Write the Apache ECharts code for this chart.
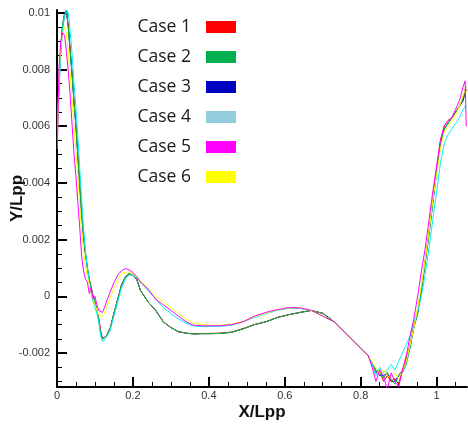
<!DOCTYPE html>
<html>
<head>
<meta charset="utf-8">
<script src="https://cdn.jsdelivr.net/npm/echarts@6/dist/echarts.min.js"></script>
<style>html,body{margin:0;padding:0;background:#fff;}#chart{width:468px;height:425px;}</style>
</head>
<body>
<div id="chart"></div>
<script>
const xValues = [0.001,0.005,0.01,0.015,0.02,0.025,0.03,0.035,0.04,0.045,
  0.05,0.055,0.06,0.065,0.07,0.075,0.08,0.085,0.09,0.095,
  0.1,0.105,0.11,0.115,0.12,0.125,0.13,0.14,0.15,0.16,
  0.17,0.18,0.19,0.2,0.21,0.22,0.24,0.26,0.28,0.3,
  0.32,0.34,0.36,0.38,0.4,0.43,0.46,0.49,0.52,0.55,
  0.58,0.61,0.64,0.67,0.7,0.73,0.76,0.79,0.82,0.83,
  0.84,0.85,0.86,0.87,0.88,0.89,0.9,0.91,0.92,0.93,
  0.94,0.95,0.96,0.97,0.98,0.99,1.0,1.01,1.02,1.03,
  1.04,1.05,1.06,1.07,1.075,1.078];

const case1 = [0.0059,0.0074,0.0087,0.0095,0.0099,0.0100,0.0095,0.0087,0.0078,0.0069,
  0.0060,0.0050,0.0039,0.0029,0.0021,0.0015,0.0010,0.0006,0.0003,0.0000,
  -0.0002,-0.0005,-0.0008,-0.0012,-0.0015,-0.00152,-0.0014,-0.00112,-0.0006,-0.0001,
  0.0004,0.00068,0.00078,0.00074,0.0006,0.0002,-0.0002,-0.0005,-0.0009,-0.0011,
  -0.00125,-0.0013,-0.00132,-0.00131,-0.00131,-0.0013,-0.00126,-0.00114,-0.001,-0.0009,
  -0.00075,-0.00065,-0.00057,-0.0005,-0.0006,-0.0009,-0.0013,-0.0017,-0.0021,-0.0024,
  -0.0027,-0.0026,-0.0030,-0.0028,-0.0030,-0.0029,-0.0031,-0.0026,-0.0022,-0.0017,
  -0.0010,-0.0005,0.0003,0.0013,0.0023,0.0034,0.0045,0.0055,0.0060,0.0062,
  0.0063,0.0065,0.0067,0.0070,0.0072,0.0073];

const case2 = [0.0060,0.0075,0.0088,0.0096,0.0099,0.0101,0.0094,0.0086,0.0078,0.0068,
  0.0060,0.0049,0.0039,0.0028,0.0021,0.0015,0.0010,0.0006,0.0003,0.0000,
  -0.0002,-0.0005,-0.0008,-0.0013,-0.0015,-0.00153,-0.0014,-0.00115,-0.0006,-0.0001,
  0.0004,0.00068,0.0008,0.00075,0.0006,0.0002,-0.0002,-0.0005,-0.0009,-0.0011,
  -0.00125,-0.0013,-0.00133,-0.00132,-0.00132,-0.00131,-0.00127,-0.00115,-0.001,-0.0009,
  -0.00075,-0.00065,-0.00057,-0.0005,-0.0006,-0.0009,-0.0013,-0.0017,-0.0021,-0.0024,
  -0.0026,-0.0027,-0.0029,-0.0027,-0.0029,-0.0031,-0.0028,-0.0027,-0.0024,-0.0018,
  -0.0011,-0.0006,0.0002,0.0012,0.0022,0.0033,0.0044,0.0054,0.0059,0.0061,
  0.0063,0.0065,0.0067,0.0070,0.0073,0.0074];

const case3 = [0.0060,0.0075,0.0088,0.0096,0.0100,0.0101,0.0095,0.0086,0.0078,0.0068,
  0.0060,0.0049,0.0039,0.0028,0.0021,0.0015,0.0010,0.0006,0.0003,0.0000,
  -0.0002,-0.0005,-0.0008,-0.0013,-0.0015,-0.00152,-0.0014,-0.00114,-0.0006,-0.0001,
  0.0004,0.00068,0.0008,0.00075,0.0006,0.0002,-0.0002,-0.0005,-0.0009,-0.0011,
  -0.00125,-0.0013,-0.00133,-0.00132,-0.00132,-0.00131,-0.00127,-0.00115,-0.001,-0.0009,
  -0.00075,-0.00065,-0.00057,-0.0005,-0.0006,-0.0009,-0.0013,-0.0017,-0.0021,-0.0024,
  -0.0026,-0.0028,-0.0028,-0.0027,-0.0030,-0.0030,-0.0028,-0.0026,-0.0023,-0.0018,
  -0.0011,-0.0006,0.0002,0.0012,0.0022,0.0033,0.0044,0.0054,0.0059,0.0061,
  0.0063,0.0065,0.0067,0.0069,0.0072,0.0073];

const case4 = [0.0058,0.0072,0.0085,0.0094,0.0099,0.0101,0.0100,0.0093,0.0085,0.0075,
  0.0066,0.0056,0.0045,0.0034,0.0024,0.0016,0.0010,0.0005,0.0001,-0.0002,
  -0.0004,-0.0006,-0.0009,-0.0014,-0.0016,-0.0016,-0.00145,-0.0012,-0.0007,-0.0002,
  0.0003,0.0006,0.00075,0.00075,0.00065,0.0005,0.0002,-0.0001,-0.0004,-0.0006,
  -0.0008,-0.00095,-0.00105,-0.00107,-0.00107,-0.00106,-0.00102,-0.0009,-0.00075,-0.00062,
  -0.0005,-0.00043,-0.00043,-0.0005,-0.0007,-0.0009,-0.0013,-0.0017,-0.0021,-0.0024,
  -0.0028,-0.0025,-0.0027,-0.0026,-0.0024,-0.0026,-0.0023,-0.0020,-0.0017,-0.0014,
  -0.0009,-0.0005,0.0000,0.0008,0.0017,0.0027,0.0037,0.0047,0.0054,0.0057,
  0.0059,0.0061,0.0063,0.0066,0.0067,0.0067];

const case5 = [0.0052,0.0080,0.0090,0.0093,0.0092,0.0086,0.0079,0.0070,0.0060,0.0050,
  0.0042,0.0033,0.0024,0.0014,0.0009,0.0006,0.0005,0.0001,0.0003,-0.0001,
  0.0000,-0.0003,-0.0005,-0.00056,-0.00057,-0.0004,-0.0002,0.00015,0.00048,0.00075,
  0.0009,0.00098,0.00093,0.00084,0.0007,0.0005,0.00025,-0.0001,-0.0003,-0.0005,
  -0.0007,-0.0009,-0.00102,-0.00104,-0.00104,-0.00104,-0.001,-0.0009,-0.0007,-0.00057,
  -0.00047,-0.0004,-0.00041,-0.0005,-0.0007,-0.0009,-0.0013,-0.0017,-0.0021,-0.0025,
  -0.0030,-0.0026,-0.0028,-0.0033,-0.0027,-0.0030,-0.0032,-0.0026,-0.0021,-0.0014,
  -0.0008,0.0000,0.0009,0.0017,0.0027,0.0037,0.0046,0.0055,0.0060,0.0062,
  0.0063,0.0066,0.0069,0.0074,0.0076,0.0060];

const case6 = [0.0055,0.0078,0.0088,0.0093,0.0095,0.0092,0.0086,0.0078,0.0069,0.0059,
  0.0051,0.0042,0.0032,0.0023,0.0016,0.0011,0.0007,0.0004,0.0001,-0.0001,
  -0.0003,-0.0005,-0.00065,-0.0007,-0.0007,-0.0006,-0.0004,-0.00005,0.0003,0.0006,
  0.0008,0.00085,0.00085,0.0008,0.0007,0.00055,0.0003,0.0000,-0.0002,-0.0004,
  -0.0006,-0.0008,-0.00095,-0.001,-0.00102,-0.00102,-0.00098,-0.00088,-0.00072,-0.0006,
  -0.00048,-0.00041,-0.0004,-0.0005,-0.0007,-0.0009,-0.0013,-0.0017,-0.0021,-0.0023,
  -0.0025,-0.0027,-0.0026,-0.0028,-0.0029,-0.0027,-0.0029,-0.0026,-0.0023,-0.0017,
  -0.0011,-0.0004,0.0004,0.0013,0.0023,0.0034,0.0043,0.0052,0.0058,0.0060,
  0.0062,0.0064,0.0067,0.0071,0.0073,0.0074];

const caseNames = ['Case 1','Case 2','Case 3','Case 4','Case 5','Case 6'];
const caseData = [case1, case2, case3, case4, case5, case6];
const lineColors = ['#ff0000','#00c040','#0000c0','#00eeff','#ff00ff','#ffff00'];
const legendColors = ['#ff0000','#00b050','#0000c0','#92cddc','#ff00ff','#ffff00'];
const drawOrder = [2, 0, 1, 3, 5, 4];
const xTickLabels = [0, 0.2, 0.4, 0.6, 0.8, 1];
const yTickLabels = [-0.002, 0, 0.002, 0.004, 0.006, 0.008, 0.01];

const chart = echarts.init(document.getElementById('chart'), null, {renderer: 'canvas'});

const series = drawOrder.map((i) => ({
  name: caseNames[i],
  type: 'line',
  data: xValues.map((x, j) => [x, caseData[i][j]]),
  showSymbol: false,
  symbol: 'none',
  lineStyle: {color: lineColors[i], width: 1},
  itemStyle: {color: legendColors[i]},
  emphasis: {disabled: true},
  animation: false
}));

const axisTextStyle = {fontFamily: 'Liberation Sans', fontSize: 11, color: '#333'};

chart.setOption({
  animation: false,
  backgroundColor: '#fff',
  grid: {left: 57, right: 1, top: 10, bottom: 38, containLabel: false, outerBoundsMode: 'none'},
  legend: {
    orient: 'vertical',
    right: 232,
    top: 17,
    padding: 0,
    align: 'right',
    icon: 'rect',
    itemWidth: 30,
    itemHeight: 12,
    itemGap: 10,
    selectedMode: false,
    textStyle: {fontFamily: 'Open Sans', fontSize: 17.5, color: '#1a1a1a', lineHeight: 20, padding: [0, 10, 0, 0]},
    data: caseNames.map((n, i) => ({name: n, itemStyle: {color: legendColors[i], borderWidth: 0}}))
  },
  xAxis: {
    type: 'value',
    min: 0,
    max: 1.08,
    interval: 0.2,
    name: 'X/Lpp',
    nameLocation: 'middle',
    nameGap: 17,
    nameMoveOverlap: false,
    nameTextStyle: {fontFamily: 'Liberation Sans', fontSize: 17, fontWeight: 'bold', color: '#111'},
    axisLine: {show: true, onZero: false, lineStyle: {color: '#000', width: 2}},
    axisTick: {show: true, inside: true, length: 10, lineStyle: {color: '#000', width: 2}, customValues: xTickLabels},
    minorTick: {show: true, splitNumber: 4, length: 5, lineStyle: {color: '#000', width: 1}},
    axisLabel: Object.assign({margin: 3, customValues: xTickLabels}, axisTextStyle),
    splitLine: {show: false}
  },
  yAxis: {
    type: 'value',
    min: -0.0032,
    max: 0.0101,
    splitNumber: 7,
    name: 'Y/Lpp',
    nameLocation: 'middle',
    nameGap: 31,
    nameMoveOverlap: false,
    nameRotate: 90,
    nameTextStyle: {fontFamily: 'Liberation Sans', fontSize: 17, fontWeight: 'bold', color: '#111'},
    axisLine: {show: true, onZero: false, lineStyle: {color: '#000', width: 2}},
    axisTick: {show: true, inside: true, length: 10, lineStyle: {color: '#000', width: 2}, customValues: yTickLabels},
    minorTick: {show: true, splitNumber: 4, length: 5, lineStyle: {color: '#000', width: 1}},
    axisLabel: Object.assign({margin: 7, customValues: yTickLabels}, axisTextStyle),
    splitLine: {show: false}
  },
  series: series
});
</script>
</body>
</html>
